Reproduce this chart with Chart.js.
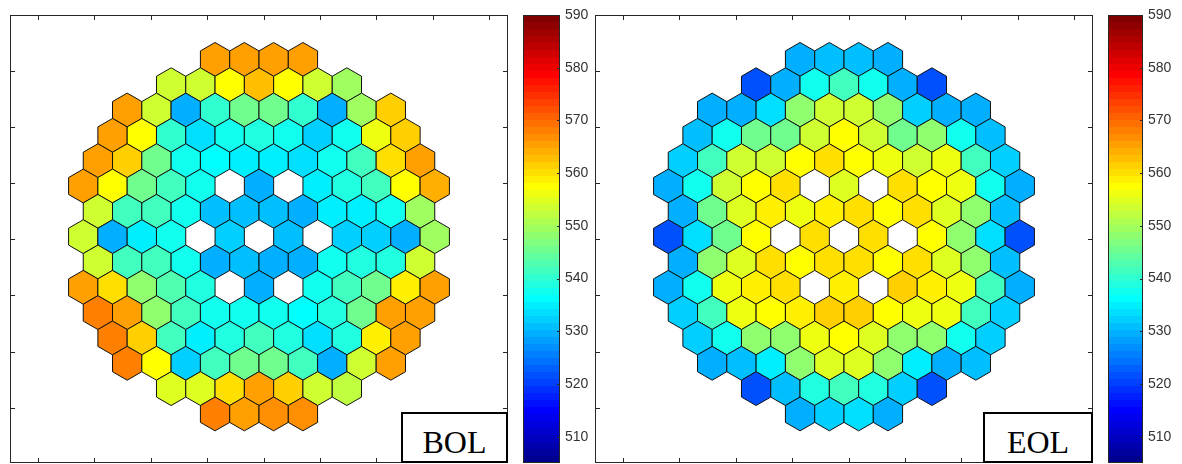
<!DOCTYPE html>
<html>
<head>
<meta charset="utf-8">
<title>BOL / EOL core map</title>
<script src="https://cdn.jsdelivr.net/npm/chart.js@4.4.1/dist/chart.umd.min.js"></script>
<style>
  body { margin: 0; background: #fff; }
  #fig { position: relative; width: 1182px; height: 464px; overflow: hidden; }
  #fig canvas { position: absolute; top: 0; }
  .tag {
    position: absolute; top: 412px; height: 51px; box-sizing: border-box;
    border: 2px solid #000; background: #fff; color: #000; text-align: center;
    font-family: "Liberation Serif", "Times New Roman", serif; font-size: 32px;
    line-height: 32px; padding-top: 12px;
  }
</style>
</head>
<body>
<div id="fig">
  <canvas id="bolMap" width="520" height="464" style="left:0"></canvas>
  <canvas id="bolBar" width="80" height="464" style="left:515px"></canvas>
  <canvas id="eolMap" width="520" height="464" style="left:585px"></canvas>
  <canvas id="eolBar" width="82" height="464" style="left:1100px"></canvas>
  <div class="tag" style="left:401px;width:107px">BOL</div>
  <div class="tag" style="left:983px;width:110px">EOL</div>
</div>
<script>
// assembly values, one list per hex row from top to bottom, null = empty position
const bolRows = [
  [566, 565, 565, 565],
  [553, 553, 558, 563, 558, 553, 550],
  [565, 553, 529, 540, 545, 545, 540, 529, 550, 561],
  [565, 558, 540, 534, 537, 539, 537, 532, 538, 555.5, 561],
  [565, 562, 546, 538, 536, 535, 534.5, 533, 537, 542, 560, 565],
  [566, 558, 545, 541, 537, null, 530, null, 534.5, 539.5, 542, 557, 564],
  [553, 541, 541, 537, 530.5, 531, 531, 529, 534.5, 535, 537, 550],
  [553, 530, 535, 537, null, 532, null, 530.5, null, 532, 532, 529, 550],
  [554, 542, 542, 538, 530, 531, 530, 530, 537, 539.5, 539.5, 554],
  [566, 560.5, 547.5, 543, 539.5, null, 529, null, 537, 541, 545, 559, 565],
  [567.5, 566, 547.5, 541, 537, 537, 537, 536, 539.5, 545, 565, 565.5],
  [567.5, 562, 542, 534.5, 539.5, 541, 539.5, 533, 539.5, 559, 565.5],
  [567.5, 557, 532, 541, 546, 546, 541, 530, 553, 565.5],
  [555, 555, 560, 565.5, 561, 553, 552],
  [567.5, 566, 567, 566.5]
];

const eolRows = [
  [529, 531, 531, 529],
  [522, 529, 538, 541, 538, 529, 521],
  [529, 530, 533, 547.5, 553, 553, 547.5, 532, 530, 529],
  [531, 537, 546, 546, 554, 557, 553, 545, 547.5, 537.5, 531],
  [532, 541, 553, 554, 557, 559.5, 558, 556, 554, 556, 542, 532],
  [529, 537, 553, 557, 560.3, null, 555, null, 560.3, 558, 555.5, 537.5, 529],
  [530, 546, 555, 559, 556, 559, 560.3, 557, 560.3, 555, 547.5, 530.5],
  [522, 533, 546, 557, null, 560.3, null, 560.3, null, 557.5, 547.5, 533, 522],
  [530, 547.5, 555, 559.5, 557, 559.5, 560.3, 558, 560.3, 555, 548.5, 531],
  [529, 537.5, 555.5, 558.5, 560.3, null, 559, null, 561.5, 559, 555.5, 541, 529],
  [532, 542, 555.5, 557, 559, 561.5, 561.5, 558, 555.5, 555.5, 542, 532],
  [532, 537.5, 548.5, 548.5, 556, 558, 555, 548.5, 548.5, 537.5, 532],
  [530, 531, 534.5, 548.5, 555, 555, 548.5, 535, 530, 530.5],
  [522, 531, 539.5, 542, 539.5, 532, 522],
  [529, 532, 533, 529]
];

const colorMin = 505;
const colorMax = 590;
const barTicks = [510, 520, 530, 540, 550, 560, 570, 580, 590];

// axis limits and (unlabelled) tick positions, in assembly pitches
const xRange = [-8.5, 8.5];
const yRange = [-7.74, 7.58];
const xTicks = [-7.54, -5.62, -3.69, -1.77, 0.16, 2.08, 4.01, 5.94, 7.86];
const yTicks = [5.67, 3.75, 1.83, -0.09, -2.01, -3.93, -5.85];

// matlab jet(n)
function jet(n) {
  const m = Math.ceil(n / 4);
  const u = [];
  for (let i = 1; i <= m; i++) u.push(i / m);
  for (let i = 1; i < m; i++) u.push(1);
  for (let i = m; i >= 1; i--) u.push(i / m);
  const g0 = Math.ceil(m / 2) - (m % 4 === 1 ? 1 : 0);
  const map = Array.from({ length: n }, () => [0, 0, 0]);
  u.forEach((val, j) => {
    const g = g0 + j + 1, r = g + m, b = g - m;
    if (r >= 1 && r <= n) map[r - 1][0] = val;
    if (g >= 1 && g <= n) map[g - 1][1] = val;
    if (b >= 1 && b <= n) map[b - 1][2] = val;
  });
  return map.map(c => `rgb(${c.map(x => Math.round(x * 255)).join(",")})`);
}
const JET = jet(64);

function jetColor(v) {
  let i = Math.floor((v - colorMin) / (colorMax - colorMin) * JET.length);
  i = Math.max(0, Math.min(JET.length - 1, i));
  return JET[i];
}

function toPoints(rows) {
  const pts = [];
  rows.forEach((row, i) => {
    const r = i - (rows.length - 1) / 2;
    row.forEach((v, j) => {
      if (v === null) return;
      pts.push({ x: j - (row.length - 1) / 2, y: -r * Math.sqrt(3) / 2, v: v });
    });
  });
  return pts;
}

const hexCells = {
  id: "hexCells",
  afterDatasetsDraw(chart) {
    const ctx = chart.ctx;
    const xs = chart.scales.x;
    const R = (xs.getPixelForValue(1) - xs.getPixelForValue(0)) / Math.sqrt(3);
    const pts = chart.data.datasets[0].data;
    ctx.save();
    ctx.lineWidth = 1;
    ctx.strokeStyle = "#111";
    chart.getDatasetMeta(0).data.forEach((el, i) => {
      ctx.beginPath();
      for (let a = 0; a < 6; a++) {
        const ang = (60 * a - 90) * Math.PI / 180;
        const px = el.x + R * Math.cos(ang), py = el.y + R * Math.sin(ang);
        if (a === 0) ctx.moveTo(px, py); else ctx.lineTo(px, py);
      }
      ctx.closePath();
      ctx.fillStyle = jetColor(pts[i].v);
      ctx.fill();
      ctx.stroke();
    });
    ctx.restore();
  }
};

// matlab style box with inward ticks on all sides
const axesBox = {
  id: "axesBox",
  afterDraw(chart) {
    const { ctx, chartArea: a } = chart;
    const xs = chart.scales.x, ys = chart.scales.y;
    const len = 5;
    ctx.save();
    ctx.strokeStyle = "#262626";
    ctx.lineWidth = 1;
    ctx.beginPath();
    xTicks.forEach(t => {
      const px = Math.round(xs.getPixelForValue(t)) + 0.5;
      ctx.moveTo(px, a.top); ctx.lineTo(px, a.top + len);
      ctx.moveTo(px, a.bottom); ctx.lineTo(px, a.bottom - len);
    });
    yTicks.forEach(t => {
      const py = Math.round(ys.getPixelForValue(t)) + 0.5;
      ctx.moveTo(a.left, py); ctx.lineTo(a.left + len, py);
      ctx.moveTo(a.right, py); ctx.lineTo(a.right - len, py);
    });
    ctx.stroke();
    ctx.strokeRect(a.left + 0.5, a.top + 0.5, a.right - a.left - 1, a.bottom - a.top - 1);
    ctx.restore();
  }
};

function mapConfig(rows, padRight) {
  return {
    type: "scatter",
    data: { datasets: [{ data: toPoints(rows), pointRadius: 0, hoverRadius: 0 }] },
    options: {
      responsive: false,
      animation: false,
      events: [],
      layout: { padding: { left: 10, top: 15, right: padRight, bottom: 1 } },
      plugins: { legend: { display: false }, tooltip: { enabled: false } },
      scales: {
        x: { type: "linear", display: false, min: xRange[0], max: xRange[1] },
        y: { type: "linear", display: false, min: yRange[0], max: yRange[1] }
      }
    },
    plugins: [hexCells, axesBox]
  };
}

function jetGradient(context) {
  const chart = context.chart;
  const ys = chart.scales.y;
  if (!chart.chartArea || !ys) return "#fff";
  const g = chart.ctx.createLinearGradient(0, ys.getPixelForValue(colorMin), 0, ys.getPixelForValue(colorMax));
  JET.forEach((c, i) => {
    g.addColorStop(i / JET.length, c);
    g.addColorStop((i + 1) / JET.length, c);
  });
  return g;
}

const barFrame = {
  id: "barFrame",
  afterDraw(chart) {
    const { ctx, chartArea: a } = chart;
    const ys = chart.scales.y;
    ctx.save();
    ctx.strokeStyle = "#262626";
    ctx.lineWidth = 1;
    ctx.beginPath();
    barTicks.forEach(t => {
      const py = Math.round(ys.getPixelForValue(t)) + 0.5;
      ctx.moveTo(a.right, py); ctx.lineTo(a.right - 3, py);
    });
    ctx.stroke();
    ctx.strokeRect(a.left + 0.5, a.top + 0.5, a.right - a.left - 1, a.bottom - a.top - 1);
    ctx.restore();
  }
};

function barConfig(labelWidth) {
  return {
    type: "bar",
    data: {
      labels: [""],
      datasets: [{
        data: [[colorMin, colorMax]],
        backgroundColor: jetGradient,
        borderWidth: 0,
        barPercentage: 1,
        categoryPercentage: 1
      }]
    },
    options: {
      responsive: false,
      animation: false,
      events: [],
      layout: { padding: { left: 8, top: 15, right: 0, bottom: 1 } },
      plugins: { legend: { display: false }, tooltip: { enabled: false } },
      scales: {
        x: { display: false },
        y: {
          position: "right",
          min: colorMin,
          max: colorMax,
          afterBuildTicks: s => { s.ticks = barTicks.map(value => ({ value })); },
          afterFit: s => {
            s.width = labelWidth;
            s.paddingTop = 0;
            s.paddingBottom = 0;
          },
          grid: { display: false, drawTicks: false },
          border: { display: false },
          ticks: {
            padding: 5,
            color: "#333",
            font: { family: "'Liberation Sans', Arial, sans-serif", size: 14 }
          }
        }
      }
    },
    plugins: [barFrame]
  };
}

new Chart(document.getElementById("bolMap"), mapConfig(bolRows, 12));
new Chart(document.getElementById("eolMap"), mapConfig(eolRows, 12));
new Chart(document.getElementById("bolBar"), barConfig(35));
new Chart(document.getElementById("eolBar"), barConfig(39));
</script>
</body>
</html>
